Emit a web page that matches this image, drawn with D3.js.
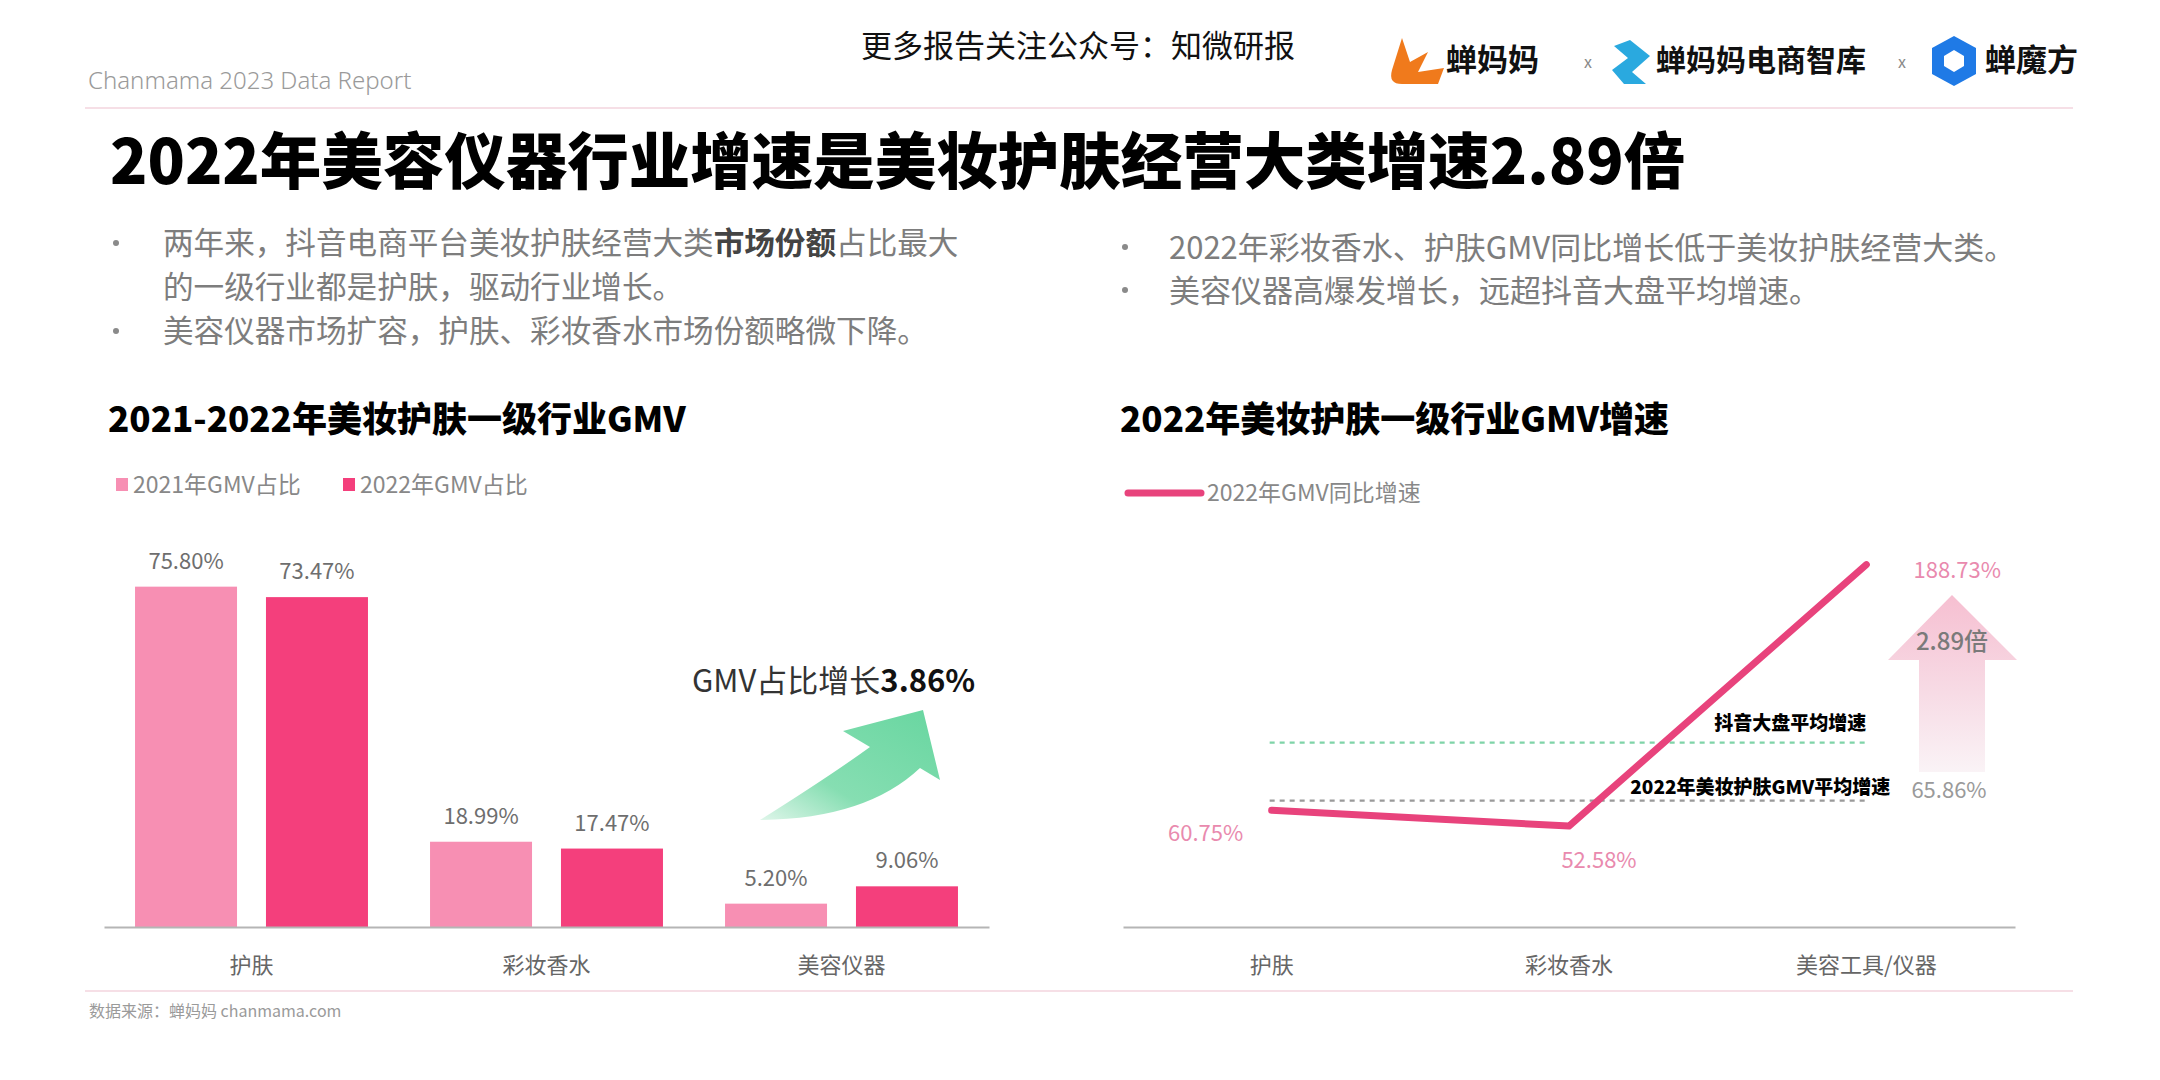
<!DOCTYPE html>
<html>
<head>
<meta charset="utf-8">
<script src="https://cdn.jsdelivr.net/npm/d3@7"></script>
<style>
  html, body { margin: 0; padding: 0; background: #ffffff; }
  svg { display: block; font-family: "Noto Sans CJK SC", "Noto Sans", sans-serif; }
</style>
</head>
<body>
<svg id="chart" width="2160" height="1080"></svg>
<script>
// ---------- data ----------
const shareCategories = ["护肤", "彩妆香水", "美容仪器"];
const shareSeries = ["2021年GMV占比", "2022年GMV占比"];
const share2021 = [75.80, 18.99, 5.20];
const share2022 = [73.47, 17.47, 9.06];

const growthCategories = ["护肤", "彩妆香水", "美容工具/仪器"];
const growthSeries = ["2022年GMV同比增速"];
const growth2022 = [60.75, 52.58, 188.73];
const refLineNames = ["抖音大盘平均增速", "2022年美妆护肤GMV平均增速"];
const refLineValues = [96, 65.86];   // first value (unlabelled)

const shareGainText = "3.86%";
const multipleText = "2.89倍";

// ---------- setup ----------
const svg = d3.select("#chart");
const FONT = '"Noto Sans CJK SC", "Noto Sans", sans-serif';
const C2021 = "#f78fb3", C2022 = "#f43f7c", CLINE = "#e8437c";
const fmt = v => d3.format(".2f")(v) + "%";

const defs = svg.append("defs");
const gGreen = defs.append("linearGradient").attr("id", "gGreen")
  .attr("x1", "0").attr("y1", "1").attr("x2", "1").attr("y2", "0");
gGreen.append("stop").attr("offset", "0").attr("stop-color", "#dff6ea");
gGreen.append("stop").attr("offset", "0.35").attr("stop-color", "#86deb2");
gGreen.append("stop").attr("offset", "1").attr("stop-color", "#68d6a0");
const gPink = defs.append("linearGradient").attr("id", "gPink")
  .attr("x1", "0").attr("y1", "0").attr("x2", "0").attr("y2", "1");
gPink.append("stop").attr("offset", "0").attr("stop-color", "#f6bfd1");
gPink.append("stop").attr("offset", "0.55").attr("stop-color", "#f7dbe5");
gPink.append("stop").attr("offset", "1").attr("stop-color", "#faf3f6");

// ---------- header ----------
svg.append("text").attr("x", 1078).attr("y", 57).attr("text-anchor", "middle")
  .attr("font-size", 31).attr("fill", "#111").text("更多报告关注公众号：知微研报");
svg.append("text").attr("x", 88).attr("y", 89)
  .attr("font-family", "'Noto Sans', sans-serif").attr("font-weight", 300)
  .attr("font-size", 24).attr("fill", "#9a9a9a").text("Chanmama 2023 Data Report");

// logos (decorative)
const logo = svg.append("g");
logo.append("path").attr("d", "M1402,38 L1392,70 Q1388,84 1402,84 L1438,84 L1444,68 L1418,72 L1428,52 L1410,62 Z")
  .attr("fill", "#f07a1c");
logo.append("text").attr("x", 1446).attr("y", 71).attr("font-size", 31).attr("font-weight", 700)
  .attr("fill", "#111").text("蝉妈妈");
logo.append("text").attr("x", 1584).attr("y", 68).attr("font-size", 16).attr("fill", "#888").text("x");
logo.append("path").attr("d", "M1630,40 L1650,56 L1632,72 L1646,84 L1624,84 L1612,70 L1628,58 L1614,46 Z")
  .attr("fill", "#2aa9df");
logo.append("text").attr("x", 1656).attr("y", 71).attr("font-size", 30).attr("font-weight", 700)
  .attr("fill", "#111").text("蝉妈妈电商智库");
logo.append("text").attr("x", 1898).attr("y", 68).attr("font-size", 16).attr("fill", "#888").text("x");
logo.append("path").attr("d", "M1954,36 L1976,48 L1976,74 L1954,86 L1932,74 L1932,48 Z")
  .attr("fill", "#1f7ae6");
logo.append("path").attr("d", "M1954,50 L1964,56 L1964,66 L1954,72 L1944,66 L1944,56 Z")
  .attr("fill", "#fff");
logo.append("text").attr("x", 1985).attr("y", 71).attr("font-size", 31).attr("font-weight", 700)
  .attr("fill", "#111").text("蝉魔方");

// top rule
svg.append("line").attr("x1", 85).attr("x2", 2073).attr("y1", 108).attr("y2", 108)
  .attr("stroke", "#f6dfe6").attr("stroke-width", 2);

// main title
svg.append("text").attr("x", 110).attr("y", 184).attr("font-size", 61.5).attr("font-weight", 900)
  .attr("fill", "#000").text("2022年美容仪器行业增速是美妆护肤经营大类增速2.89倍");

// ---------- bullets ----------
const bulletColor = "#7d7d7d";
function bullet(x, y) {
  svg.append("circle").attr("cx", x).attr("cy", y).attr("r", 3).attr("fill", "#8a8a8a");
}
bullet(116, 243);
const t1 = svg.append("text").attr("x", 163).attr("y", 254).attr("font-size", 30.6).attr("fill", bulletColor);
t1.append("tspan").text("两年来，抖音电商平台美妆护肤经营大类");
t1.append("tspan").attr("font-weight", 700).attr("fill", "#444").text("市场份额");
t1.append("tspan").text("占比最大");
svg.append("text").attr("x", 163).attr("y", 298).attr("font-size", 30.6).attr("fill", bulletColor)
  .text("的一级行业都是护肤，驱动行业增长。");
bullet(116, 331);
svg.append("text").attr("x", 163).attr("y", 342).attr("font-size", 30.6).attr("fill", bulletColor)
  .text("美容仪器市场扩容，护肤、彩妆香水市场份额略微下降。");

bullet(1125, 247);
svg.append("text").attr("x", 1169).attr("y", 259).attr("font-size", 31).attr("fill", bulletColor)
  .text("2022年彩妆香水、护肤GMV同比增长低于美妆护肤经营大类。");
bullet(1125, 290);
svg.append("text").attr("x", 1169).attr("y", 302).attr("font-size", 31).attr("fill", bulletColor)
  .text("美容仪器高爆发增长，远超抖音大盘平均增速。");

// ---------- left chart: grouped bars ----------
svg.append("text").attr("x", 108).attr("y", 432).attr("font-size", 35).attr("font-weight", 900)
  .attr("fill", "#000").text("2021-2022年美妆护肤一级行业GMV");

// legend
const legL = svg.append("g");
shareSeries.forEach((s, i) => {
  const lx = [116, 343][i];
  legL.append("rect").attr("x", lx).attr("y", 478).attr("width", 12).attr("height", 13)
    .attr("fill", [C2021, C2022][i]);
  legL.append("text").attr("x", lx + 17).attr("y", 493).attr("font-size", 23).attr("fill", "#888").text(s);
});

const xL = d3.scaleBand().domain(shareCategories).range([104, 989]).padding(0);
const xL2 = d3.scaleBand().domain(shareSeries).range([0, xL.bandwidth()])
  .paddingInner(0.221).paddingOuter(0.237);
const yL = d3.scaleLinear().domain([0, 100]).range([927, 478]);

const shareRows = shareCategories.map((c, i) => ({ cat: c, vals: [share2021[i], share2022[i]] }));
const groups = svg.append("g").selectAll("g").data(shareRows).join("g")
  .attr("transform", d => `translate(${xL(d.cat)},0)`);
groups.selectAll("rect").data(d => d.vals.map((v, j) => ({ s: shareSeries[j], v, j })))
  .join("rect")
  .attr("x", d => xL2(d.s)).attr("width", xL2.bandwidth())
  .attr("y", d => yL(d.v)).attr("height", d => yL(0) - yL(d.v))
  .attr("fill", d => [C2021, C2022][d.j]);
groups.selectAll("text").data(d => d.vals.map((v, j) => ({ s: shareSeries[j], v, j })))
  .join("text")
  .attr("x", d => xL2(d.s) + xL2.bandwidth() / 2).attr("y", d => yL(d.v) - 18)
  .attr("text-anchor", "middle").attr("font-size", 22).attr("fill", "#6e6e6e")
  .text(d => fmt(d.v));

const axL = svg.append("g").attr("transform", `translate(0,${yL(0)})`)
  .call(d3.axisBottom(xL).tickSize(0).tickPadding(0));
axL.select(".domain").attr("stroke", "#b5b5b5").attr("stroke-width", 2);
axL.selectAll(".tick text").attr("y", 46).attr("dy", 0).attr("font-size", 22)
  .attr("font-family", FONT).attr("fill", "#666");

// green arrow + annotation
svg.append("path")
  .attr("d", "M760,820 Q830,776 870,747 L843,731 L923,710 L940,780 L920,768 Q866,819 760,820 Z")
  .attr("fill", "url(#gGreen)");
const ann = svg.append("text").attr("x", 692).attr("y", 692).attr("font-size", 31).attr("fill", "#333");
ann.append("tspan").text("GMV占比增长");
ann.append("tspan").attr("font-weight", 700).attr("fill", "#111").text(shareGainText);

// ---------- right chart: line ----------
svg.append("text").attr("x", 1120).attr("y", 432).attr("font-size", 35).attr("font-weight", 900)
  .attr("fill", "#000").text("2022年美妆护肤一级行业GMV增速");

svg.append("line").attr("x1", 1128).attr("x2", 1201).attr("y1", 493).attr("y2", 493)
  .attr("stroke", CLINE).attr("stroke-width", 7).attr("stroke-linecap", "round");
svg.append("text").attr("x", 1207).attr("y", 501).attr("font-size", 23).attr("fill", "#888").text(growthSeries[0]);

const xR = d3.scaleBand().domain(growthCategories).range([1123, 2015]).padding(0);
const yR = d3.scaleLinear().domain([0, 200]).range([927, 543]);
const cx = c => xR(c) + xR.bandwidth() / 2;
const xStart = cx(growthCategories[0]) - 2, xEnd = cx(growthCategories[2]);

// pink multiple arrow
const arrowX = 1952;
svg.append("path")
  .attr("d", `M${arrowX},${595} L${arrowX + 65},660 L${arrowX + 33},660 L${arrowX + 33},772 L${arrowX - 33},772 L${arrowX - 33},660 L${arrowX - 64},660 Z`)
  .attr("fill", "url(#gPink)");
svg.append("text").attr("x", arrowX).attr("y", 650).attr("text-anchor", "middle")
  .attr("font-size", 24).attr("font-weight", 500).attr("fill", "#7a7a7a").text(multipleText);

// reference lines
const refColors = ["#7fd4a8", "#9a9a9a"];
refLineValues.forEach((v, i) => {
  svg.append("line").attr("x1", xStart).attr("x2", xEnd).attr("y1", yR(v)).attr("y2", yR(v))
    .attr("stroke", refColors[i]).attr("stroke-width", 2.2).attr("stroke-dasharray", "5,5");
});
svg.append("text").attr("x", xEnd).attr("y", yR(refLineValues[0]) - 13).attr("text-anchor", "end")
  .attr("font-size", 19).attr("font-weight", 900).attr("fill", "#000").text(refLineNames[0]);
svg.append("text").attr("x", xEnd + 24).attr("y", yR(refLineValues[1]) - 7).attr("text-anchor", "end")
  .attr("font-size", 19).attr("font-weight", 900).attr("fill", "#000").text(refLineNames[1]);
svg.append("text").attr("x", 1949).attr("y", yR(refLineValues[1]) - 3).attr("text-anchor", "middle")
  .attr("font-size", 22).attr("fill", "#9a9a9a").text(fmt(refLineValues[1]));

// the line
const pts = growthCategories.map((c, i) => ({ c, v: growth2022[i] }));
svg.append("path").datum(pts)
  .attr("d", d3.line().x(d => cx(d.c)).y(d => yR(d.v)))
  .attr("fill", "none").attr("stroke", CLINE).attr("stroke-width", 7)
  .attr("stroke-linecap", "round").attr("stroke-linejoin", "round");

const labelOffsets = [[-66, 31], [30, 42], [91, 13]];
svg.append("g").selectAll("text").data(pts).join("text")
  .attr("x", (d, i) => cx(d.c) + labelOffsets[i][0])
  .attr("y", (d, i) => yR(d.v) + labelOffsets[i][1])
  .attr("text-anchor", "middle").attr("font-size", 22).attr("fill", "#e98aae")
  .text(d => fmt(d.v));

const axR = svg.append("g").attr("transform", `translate(0,${yR(0)})`)
  .call(d3.axisBottom(xR).tickSize(0).tickPadding(0));
axR.select(".domain").attr("stroke", "#b5b5b5").attr("stroke-width", 2);
axR.selectAll(".tick text").attr("y", 46).attr("dy", 0).attr("font-size", 22)
  .attr("font-family", FONT).attr("fill", "#666");

// ---------- footer ----------
svg.append("line").attr("x1", 85).attr("x2", 2073).attr("y1", 991).attr("y2", 991)
  .attr("stroke", "#f6dfe6").attr("stroke-width", 2);
svg.append("text").attr("x", 89).attr("y", 1017).attr("font-size", 16).attr("fill", "#9a9a9a")
  .text("数据来源：蝉妈妈 chanmama.com");
</script>
</body>
</html>
